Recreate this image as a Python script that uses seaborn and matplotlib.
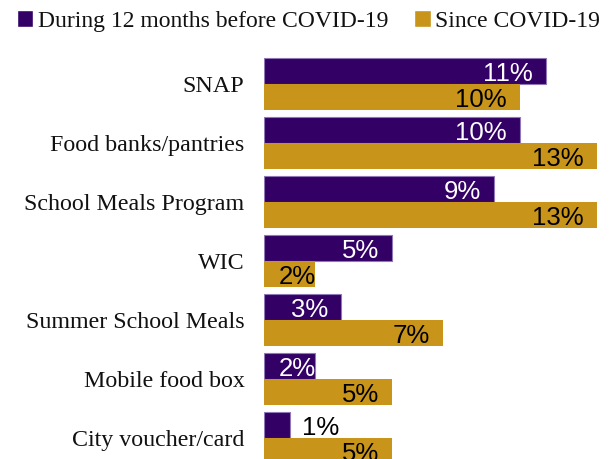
import matplotlib
matplotlib.use("Agg")
import matplotlib.pyplot as plt
import seaborn as sns
import pandas as pd

programs = ["SNAP", "Food banks/pantries", "School Meals Program", "WIC",
            "Summer School Meals", "Mobile food box", "City voucher/card"]
before_covid = [11, 10, 9, 5, 3, 2, 1]
since_covid = [10, 13, 13, 2, 7, 5, 5]
periods = ["During 12 months before COVID-19", "Since COVID-19"]

PURPLE = "#330066"
GOLD = "#C89419"

df = pd.DataFrame({
    "program": programs * 2,
    "pct": before_covid + since_covid,
    "period": [periods[0]] * len(programs) + [periods[1]] * len(programs),
})

sns.set_style("white")
plt.rcParams["font.family"] = ["Liberation Serif", "DejaVu Serif"]

W, H = 616, 459
fig = plt.figure(figsize=(W / 100, H / 100), dpi=100)
# plot area: value 0 at x=264px, categories from y=54px down past the bottom edge
ax = fig.add_axes([264 / W, 1 - 467.5 / H, (W - 264) / W, (467.5 - 54.5) / H])

sns.barplot(data=df, y="program", x="pct", hue="period", order=programs,
            hue_order=periods, palette=[PURPLE, GOLD], width=0.88,
            orient="h", saturation=1, ax=ax, legend=True)

for patch in ax.containers[0]:
    patch.set_edgecolor("#8e78b8")
    patch.set_linewidth(0.8)
for patch in ax.containers[1]:
    patch.set_edgecolor("none")

ax.set_xlim(0, 13.75)
ax.set_ylim(6.5, -0.5)
ax.set_xlabel("")
ax.set_ylabel("")
ax.set_xticks([])
ax.tick_params(axis="y", length=0, pad=14, labelsize=17.3, labelcolor="#111111")
sns.despine(ax=ax, left=True, bottom=True)

# value labels: inside the bar end, but never closer than a fixed gap to the axis
x0_px = ax.transData.transform((0, 0))[0]
label_w_px = 35
for cont, vals, txtcol in [(ax.containers[0], before_covid, "white"),
                           (ax.containers[1], since_covid, "black")]:
    for bar, v in zip(cont, vals):
        yc = bar.get_y() + bar.get_height() / 2 + 0.05
        end_px = ax.transData.transform((v, 0))[0]
        if v <= 1:
            ax.annotate(f"{v}%", (v, yc), xytext=(9, 0), textcoords="offset points",
                        ha="left", va="center", color="black", fontsize=18.5,
                        family="Liberation Sans")
        else:
            right_px = max(end_px - 13, x0_px + 17 + label_w_px)
            off_pt = (right_px - end_px) * 72 / 100
            ax.annotate(f"{v}%", (v, yc), xytext=(off_pt, 0), textcoords="offset points",
                        ha="right", va="center", color=txtcol, fontsize=18.5,
                        family="Liberation Sans")

handles, labels = ax.get_legend_handles_labels()
ax.legend(handles, labels, loc="upper left", bbox_to_anchor=(0.0, 1.014),
          bbox_transform=fig.transFigure, ncol=2, frameon=False, fontsize=17,
          handlelength=0.7, handleheight=0.7, handletextpad=0.2,
          columnspacing=1.1, borderaxespad=0.3, labelcolor="#111111")

fig.savefig("out.png", dpi=100)
